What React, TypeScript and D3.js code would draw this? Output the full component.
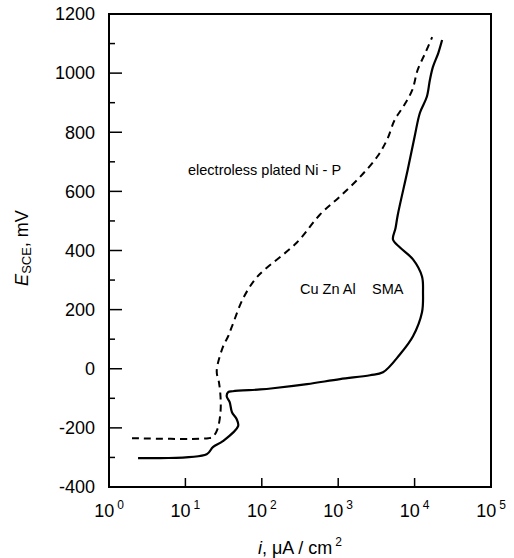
import React, { useEffect, useRef } from 'react';
import * as d3 from 'd3';

// electroless plated Ni-P (dashed)
const niPCurrent = [2.0, 20, 22.9, 26.3, 28.8, 28.8, 27.5, 25.7, 30.9, 36.3, 40.7, 56.2, 81.3, 110, 288, 575, 1047, 1950, 3236, 4365, 5495, 7079, 9333, 10965, 13804, 16982];
const niPPotential = [-235, -235, -230, -204, -147, -93, -46, -8, 73, 110, 143, 235, 302, 336, 427, 521, 582, 650, 717, 775, 842, 886, 943, 1011, 1068, 1122];

// Cu Zn Al SMA (solid)
const smaCurrent = [2.4, 19, 22.9, 30.9, 49, 46.8, 40.7, 38, 34.7, 36.3, 41.7, 95.5, 140, 391, 1057, 2606, 3855, 6442, 9528, 12500, 12882, 12500, 9528, 6442, 5212, 5623, 6026, 8128, 10000, 11749, 14454, 15849, 17378, 20417, 22909];
const smaPotential = [-302, -289, -265, -245, -194, -170, -147, -113, -93, -79, -76, -70, -66, -52, -35, -22, -12, 49, 110, 191, 258, 312, 370, 410, 437, 475, 521, 673, 785, 866, 920, 977, 1021, 1068, 1112];

const xDecades = [0, 1, 2, 3, 4, 5];
const yMajor = [-400, -200, 0, 200, 400, 600, 800, 1000, 1200];
const yMinor = [-300, -100, 100, 300, 500, 700, 900, 1100];

const FONT = '"Liberation Sans", Arial, sans-serif';

function App() {
  const ref = useRef<SVGSVGElement>(null);

  useEffect(() => {
    const svg = d3.select(ref.current);
    svg.selectAll('*').remove();

    const left = 109, right = 491, top = 14, bottom = 487;
    const x = d3.scaleLog().domain([1, 1e5]).range([left, right]);
    const y = d3.scaleLinear().domain([-400, 1200]).range([bottom, top]);

    const g = svg.append('g');

    // frame
    g.append('rect')
      .attr('x', left).attr('y', top)
      .attr('width', right - left).attr('height', bottom - top)
      .attr('fill', 'none').attr('stroke', '#000').attr('stroke-width', 2);

    // y ticks (inward)
    g.selectAll('.ymaj').data(yMajor).join('line')
      .attr('x1', left).attr('x2', left + 13)
      .attr('y1', d => y(d)).attr('y2', d => y(d))
      .attr('stroke', '#000').attr('stroke-width', 1.5);
    g.selectAll('.ymin').data(yMinor).join('line')
      .attr('x1', left).attr('x2', left + 6)
      .attr('y1', d => y(d)).attr('y2', d => y(d))
      .attr('stroke', '#000').attr('stroke-width', 1.5);
    g.selectAll('.ylab').data(yMajor).join('text')
      .attr('x', 95).attr('y', d => y(d))
      .attr('dy', '0.35em')
      .attr('text-anchor', 'end')
      .attr('font-family', FONT).attr('font-size', 18)
      .text(d => String(d));

    // x ticks (inward)
    g.selectAll('.xt').data(xDecades.slice(1, 5)).join('line')
      .attr('x1', d => x(Math.pow(10, d))).attr('x2', d => x(Math.pow(10, d)))
      .attr('y1', bottom).attr('y2', bottom - 9)
      .attr('stroke', '#000').attr('stroke-width', 1.5);
    const xl = g.selectAll('.xl').data(xDecades).join('text')
      .attr('x', d => x(Math.pow(10, d)))
      .attr('y', 517)
      .attr('text-anchor', 'middle')
      .attr('font-family', FONT).attr('font-size', 18);
    xl.append('tspan').text('10');
    xl.append('tspan').attr('dy', -8).attr('dx', 3).attr('font-size', 12).text(d => String(d));

    // axis titles
    const yt = g.append('text')
      .attr('transform', 'translate(28,248) rotate(-90)')
      .attr('text-anchor', 'middle')
      .attr('font-family', FONT).attr('font-size', 18);
    yt.append('tspan').attr('font-style', 'italic').text('E');
    yt.append('tspan').attr('font-size', 13).attr('dy', 3).text('SCE');
    yt.append('tspan').attr('dy', -3).text(', mV');

    const xt = g.append('text')
      .attr('x', 300).attr('y', 554)
      .attr('text-anchor', 'middle')
      .attr('font-family', FONT).attr('font-size', 18);
    xt.append('tspan').attr('font-style', 'italic').text('i');
    xt.append('tspan').text(', μA / cm');
    xt.append('tspan').attr('font-size', 12).attr('dy', -8).attr('dx', 3).text('2');

    // curves
    const line = d3.line<[number, number]>()
      .x(d => x(d[0])).y(d => y(d[1]))
      .curve(d3.curveCatmullRom.alpha(0.5));

    const niP = niPCurrent.map((c, i) => [c, niPPotential[i]] as [number, number]);
    const sma = smaCurrent.map((c, i) => [c, smaPotential[i]] as [number, number]);

    g.append('path').attr('d', line(niP))
      .attr('fill', 'none').attr('stroke', '#000')
      .attr('stroke-width', 2).attr('stroke-dasharray', '7,5');
    g.append('path').attr('d', line(sma))
      .attr('fill', 'none').attr('stroke', '#000')
      .attr('stroke-width', 2.2);

    // annotations
    g.append('text').attr('x', 188).attr('y', 175)
      .attr('font-family', FONT).attr('font-size', 14.5)
      .text('electroless plated Ni - P');
    g.append('text').attr('x', 300).attr('y', 294)
      .attr('font-family', FONT).attr('font-size', 14.5)
      .text('Cu Zn Al');
    g.append('text').attr('x', 372).attr('y', 294)
      .attr('font-family', FONT).attr('font-size', 14.5)
      .text('SMA');
  }, []);

  return (
    <svg ref={ref} width={514} height={558}
      style={{ position: 'absolute', left: 0, top: 0, background: '#fff' }} />
  );
}

export default App;
